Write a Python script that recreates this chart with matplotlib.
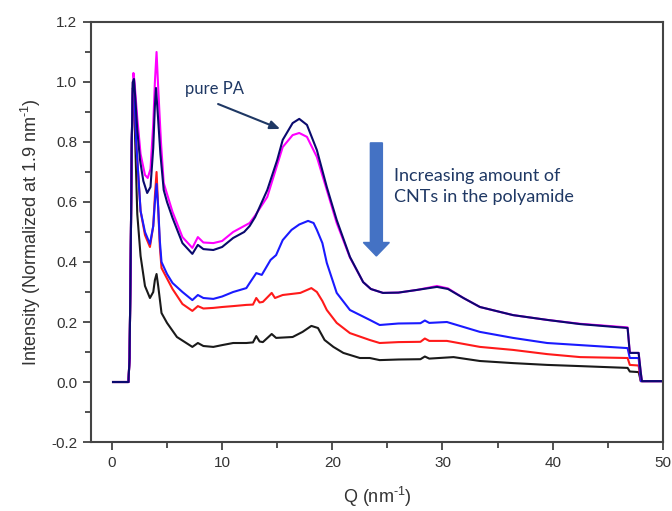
import matplotlib
matplotlib.use("Agg")
import matplotlib.pyplot as plt

plt.rcParams['font.family'] = ['Liberation Sans', 'DejaVu Sans']
plt.rcParams['mathtext.fontset'] = 'custom'
plt.rcParams['mathtext.rm'] = 'Liberation Sans'

# pure PA (navy)
pa_q = [0.1, 1.5, 1.6, 1.7, 1.8, 1.9, 2.0, 2.15, 2.3, 2.55, 2.85, 3.2, 3.5, 3.75, 3.9, 4.0, 4.15, 4.4, 4.7, 5.0,
        5.5, 6.0, 6.4, 7.3, 7.8, 8.3, 9.2, 10.0, 11.0, 12.0, 12.5, 13.0, 14.1, 15.0, 15.5, 16.4, 17.0, 17.7, 18.6, 19.5,
        20.4, 21.6, 22.8, 23.5, 24.6, 26.0, 27.7, 29.5, 30.5, 31.9, 33.4, 36.4, 39.5, 42.5, 46.8, 47.0, 47.8, 48.0, 48.1, 50.0]
pa_i = [0.0, 0.0, 0.08, 0.4, 0.8, 1.0, 1.01, 0.93, 0.84, 0.74, 0.67, 0.63, 0.65, 0.78, 0.92, 0.98, 0.90, 0.76, 0.64, 0.60,
        0.547, 0.50, 0.463, 0.427, 0.457, 0.443, 0.44, 0.45, 0.48, 0.50, 0.52, 0.55, 0.64, 0.74, 0.807, 0.863, 0.877, 0.857, 0.773, 0.65,
        0.54, 0.417, 0.333, 0.31, 0.297, 0.298, 0.307, 0.317, 0.31, 0.28, 0.25, 0.223, 0.207, 0.193, 0.18, 0.097, 0.097, 0.03, 0.003, 0.003]

# magenta
mag_q = [0.1, 1.5, 1.6, 1.7, 1.8, 1.95, 2.05, 2.3, 2.6, 3.0, 3.25, 3.5, 3.75, 3.9, 4.05, 4.2, 4.45, 4.7, 5.5, 6.4,
         7.3, 7.8, 8.3, 9.2, 10.0, 11.0, 12.0, 12.5, 13.0, 14.1, 15.5, 16.4, 17.0, 17.7, 18.6, 19.5, 20.4, 21.6, 22.8, 23.5,
         24.6, 26.0, 27.7, 29.5, 30.5, 31.9, 33.4, 36.4, 39.5, 42.5, 46.8, 47.0, 47.8, 48.0, 48.1, 50.0]
mag_i = [0.0, 0.0, 0.08, 0.4, 0.8, 1.03, 1.0, 0.88, 0.76, 0.69, 0.68, 0.71, 0.86, 1.0, 1.10, 0.98, 0.80, 0.663, 0.567, 0.483,
         0.447, 0.483, 0.465, 0.463, 0.47, 0.50, 0.52, 0.53, 0.555, 0.617, 0.783, 0.823, 0.83, 0.817, 0.75, 0.64, 0.53, 0.415, 0.333, 0.31,
         0.297, 0.298, 0.307, 0.32, 0.312, 0.28, 0.25, 0.223, 0.207, 0.194, 0.182, 0.097, 0.097, 0.03, 0.003, 0.003]

# blue
blue_q = [0.1, 1.5, 1.6, 1.7, 1.8, 1.9, 2.0, 2.2, 2.6, 3.0, 3.45, 3.75, 3.9, 4.05, 4.2, 4.35, 4.5, 5.0, 5.5, 6.4,
          7.3, 7.8, 8.3, 9.2, 10.0, 11.0, 12.2, 12.5, 13.1, 13.6, 14.4, 14.9, 15.5, 16.3, 17.0, 17.8, 18.3, 18.6, 19.1, 19.5,
          20.4, 21.6, 23.4, 24.3, 26.0, 28.0, 28.4, 28.8, 30.4, 33.4, 36.4, 39.5, 42.5, 46.8, 47.0, 47.8, 48.0, 48.1, 50.0]
blue_i = [0.0, 0.0, 0.08, 0.4, 0.8, 1.0, 1.0, 0.8, 0.57, 0.50, 0.46, 0.52, 0.60, 0.66, 0.58, 0.47, 0.40, 0.36, 0.33, 0.30,
          0.273, 0.29, 0.28, 0.277, 0.285, 0.30, 0.313, 0.33, 0.363, 0.357, 0.407, 0.423, 0.473, 0.507, 0.525, 0.537, 0.53, 0.507, 0.463, 0.397,
          0.297, 0.24, 0.207, 0.19, 0.195, 0.196, 0.205, 0.197, 0.2, 0.167, 0.147, 0.13, 0.123, 0.113, 0.08, 0.08, 0.003, 0.003, 0.003]

# red
red_q = [0.1, 1.5, 1.6, 1.7, 1.8, 1.9, 2.0, 2.2, 2.6, 3.0, 3.45, 3.75, 3.9, 4.05, 4.2, 4.35, 4.5, 5.0, 5.5, 6.4,
         7.3, 7.8, 8.3, 9.2, 10.0, 11.0, 12.2, 12.8, 13.1, 13.4, 13.7, 14.5, 14.8, 15.5, 17.1, 18.1, 18.6, 19.1, 19.5, 20.4,
         21.6, 23.4, 24.3, 26.0, 28.0, 28.4, 28.8, 30.4, 33.4, 36.4, 39.5, 42.5, 46.8, 47.0, 47.8, 48.0, 48.1, 50.0]
red_i = [0.0, 0.0, 0.08, 0.4, 0.8, 1.0, 1.0, 0.8, 0.57, 0.49, 0.45, 0.52, 0.62, 0.70, 0.58, 0.45, 0.38, 0.345, 0.31, 0.26,
         0.237, 0.253, 0.245, 0.247, 0.25, 0.253, 0.257, 0.258, 0.28, 0.265, 0.267, 0.297, 0.28, 0.29, 0.297, 0.313, 0.30, 0.27, 0.24, 0.197,
         0.163, 0.14, 0.13, 0.133, 0.134, 0.145, 0.137, 0.137, 0.117, 0.107, 0.093, 0.083, 0.08, 0.057, 0.055, 0.003, 0.003, 0.003]

# black
blk_q = [0.1, 1.5, 1.6, 1.7, 1.8, 1.9, 2.0, 2.3, 2.6, 3.0, 3.45, 3.75, 3.9, 4.05, 4.2, 4.5, 5.0, 5.9, 7.3, 7.8,
         8.3, 9.2, 10.0, 11.0, 12.2, 12.8, 13.1, 13.4, 13.7, 14.5, 14.9, 16.4, 17.3, 18.1, 18.7, 19.3, 20.1, 21.0, 22.5, 23.4,
         24.3, 26.0, 28.0, 28.4, 28.8, 31.0, 33.4, 36.4, 39.5, 42.5, 46.8, 47.0, 47.8, 48.0, 48.1, 50.0]
blk_i = [0.0, 0.0, 0.08, 0.4, 0.8, 0.98, 0.95, 0.56, 0.42, 0.32, 0.28, 0.30, 0.34, 0.36, 0.32, 0.23, 0.197, 0.15, 0.117, 0.13,
         0.12, 0.117, 0.123, 0.13, 0.13, 0.132, 0.153, 0.135, 0.133, 0.16, 0.147, 0.15, 0.167, 0.187, 0.18, 0.14, 0.117, 0.097, 0.08, 0.08,
         0.073, 0.075, 0.076, 0.085, 0.078, 0.083, 0.07, 0.063, 0.057, 0.053, 0.047, 0.035, 0.033, 0.003, 0.003, 0.003]

fig = plt.figure(figsize=(6.72, 5.11), dpi=100)
ax = fig.add_axes([0.1354, 0.135, 0.851, 0.822])

ax.plot(blk_q, blk_i, color='#1a1a1a', lw=1.5)
ax.plot(red_q, red_i, color='#ff1a1a', lw=1.5)
ax.plot(blue_q, blue_i, color='#1a1aff', lw=1.5)
ax.plot(mag_q, mag_i, color='#ff00ff', lw=1.5)
ax.plot(pa_q, pa_i, color='#0a0a6e', lw=1.5)

ax.set_xlim(-1.9, 50)
ax.set_ylim(-0.2, 1.2)
ax.set_xticks([0, 10, 20, 30, 40, 50])
ax.set_xticks([5, 15, 25, 35, 45], minor=True)
ax.set_yticks([-0.2, 0.0, 0.2, 0.4, 0.6, 0.8, 1.0, 1.2])
ax.set_yticks([-0.1, 0.1, 0.3, 0.5, 0.7, 0.9, 1.1], minor=True)
ax.set_yticklabels(['-0.2', '0.0', '0.2', '0.4', '0.6', '0.8', '1.0', '1.2'])
ax.tick_params(which='major', length=6, width=1.2, labelsize=11, colors='#333333', pad=4)
ax.tick_params(which='minor', length=4, width=1.2, colors='#333333')
for s in ax.spines.values():
    s.set_linewidth(1.5)
    s.set_color('#444444')

ax.set_xlabel(r'Q (nm$^{\text{-1}}$)', fontsize=13, color='#333333', labelpad=11)
ax.set_ylabel(r'Intensity (Normalized at 1.9 nm$^{\text{-1}}$)', fontsize=13, color='#333333', labelpad=6)

note_color = '#1F3864'
ax.text(6.6, 0.96, 'pure PA', fontsize=12, color=note_color, family='Lato', va='baseline')
ax.annotate('', xy=(15.5, 0.84), xytext=(9.4, 0.93),
            arrowprops=dict(arrowstyle='-|>,head_length=0.6,head_width=0.25', color=note_color, lw=1.5))

ax.arrow(24.0, 0.797, 0, -0.377, width=1.09, head_width=2.36, head_length=0.045,
         length_includes_head=True, fc='#4472C4', ec='#4472C4')
ax.text(25.6, 0.712, 'Increasing amount of\nCNTs in the polyamide', fontsize=13, color=note_color,
        family='Lato', va='top', ha='left', linespacing=1.35)

fig.savefig('out.png', dpi=100)
